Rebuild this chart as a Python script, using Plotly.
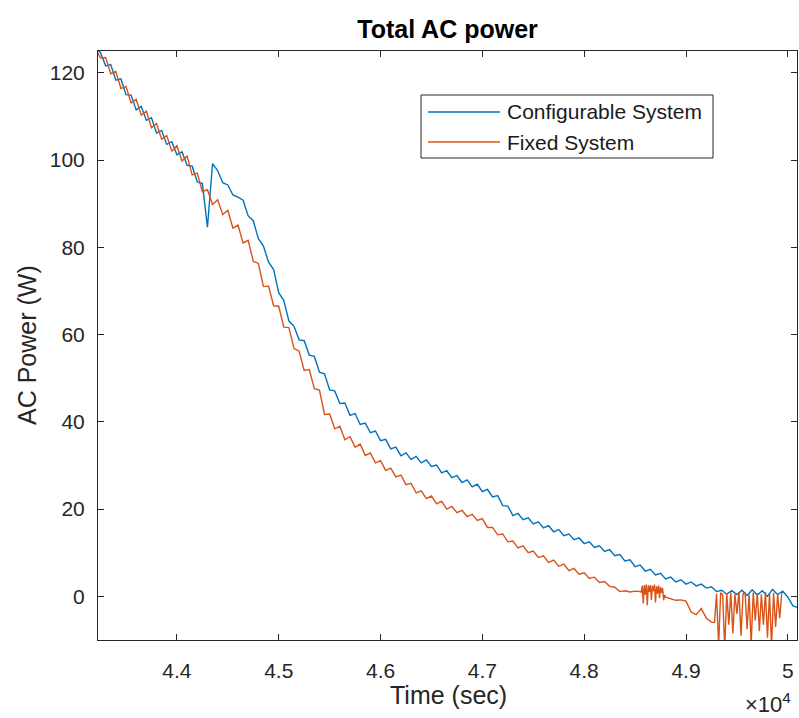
import numpy as np
import plotly.graph_objects as go

# ---- data -------------------------------------------------------------
# Configurable system: AC power (W), sampled every 50 s from t = 43200 s
CFG_T0, CFG_DT = 43200, 50
cfg_power = [
    125.8, 124.6, 121.6, 121.9, 118.3, 118.6, 115.0, 114.9, 111.5, 112.3,
    109.1, 109.7, 106.2, 106.8, 103.6, 104.2, 101.2, 101.9, 98.8, 98.6,
    95.0, 94.6, 84.6, 99.2, 97.6, 94.8, 94.3, 92.0, 91.5, 90.8,
    87.2, 86.1, 82.0, 80.3, 76.6, 74.9, 69.6, 67.8, 63.1, 61.9,
    58.8, 58.6, 55.3, 55.0, 51.4, 51.0, 47.3, 47.1, 44.2, 44.3,
    41.5, 41.9, 39.4, 39.7, 37.5, 37.9, 35.7, 36.0, 33.8, 34.2,
    32.2, 32.9, 31.4, 32.1, 30.6, 31.3, 29.8, 30.1, 28.3, 28.8,
    27.2, 27.7, 26.1, 26.7, 25.1, 25.7, 24.0, 24.5, 22.8, 23.1,
    20.8, 20.7, 18.5, 19.0, 17.6, 18.0, 16.6, 17.1, 15.7, 16.2,
    14.8, 15.3, 13.9, 14.3, 13.0, 13.4, 12.1, 12.5, 11.2, 11.6,
    10.3, 10.7, 9.3, 9.6, 8.1, 8.4, 6.8, 7.2, 5.8, 6.2,
    4.9, 5.3, 4.0, 4.4, 3.3, 3.8, 2.8, 3.3, 2.4, 2.8,
    1.9, 2.2, 1.1, 1.4, 0.5, 1.3, 0.4, 1.4, 0.2, 1.5,
    0.3, 1.3, 0.0, 1.6, 0.4, 1.2, -0.2, -2.2, -2.6,
]

# Fixed system: AC power (W), logged in segments with different sample spacing
fix_power_a = [  # from 43200 s, every 50 s
    125.6, 123.4, 123.5, 119.8, 120.3, 116.4, 116.9, 113.1, 113.9, 110.3,
    111.2, 107.4, 108.4, 104.8, 105.6, 102.0, 103.3, 99.8, 100.9, 96.6,
    97.0, 92.8, 93.2, 89.8, 90.9, 87.5, 88.5, 84.4, 85.1, 81.0,
    81.6, 76.8, 76.3, 71.0, 71.1, 66.6, 66.5, 61.7, 61.6, 56.8,
    56.2, 51.8, 52.0, 47.6, 47.3, 41.7, 41.8, 38.4, 39.0, 35.9,
    36.6, 34.2, 34.9, 32.3, 32.9, 30.6, 31.1, 28.9, 29.4, 27.4,
    27.8, 25.6, 25.9, 23.7, 24.2, 22.4, 23.0, 21.2, 21.8, 20.0,
    20.6, 19.2, 19.7, 18.3, 18.8, 17.4, 17.8, 15.8, 15.8, 14.1,
    14.3, 12.5, 12.7, 11.1, 11.6, 10.0, 10.4, 8.9, 9.3, 7.8,
    8.3, 6.9, 7.4, 5.9, 6.4, 5.1, 5.4, 4.1, 4.4, 3.2,
    3.4, 2.3, 2.1, 1.1, 1.3, 1.0, 1.2, 1.1,
]
fix_power_b = [  # from 48560 s, every 10 s
    0.9, 2.4, -1.6, 2.6, 0.4, 2.7, -2.0, 2.5, 1.0, 2.6,
    -0.8, 2.4, 1.2, 2.7, -1.4, 2.3, 0.6, 2.5, -0.4, 2.2,
    0.8, 1.9, -0.9, 0.3, -0.2,
]
fix_power_c = [  # from 48850 s, every 50 s
    -0.6, -0.9, -0.8, -1.1, -3.6, -4.2, -2.8, -5.0, -5.9,
]
fix_power_d = [  # from 49280 s, every 20 s
    -6.0, 0.6, -11.5, 0.8, 0.4, -12.0, 0.7, -6.5, 0.9, -8.5,
    0.5, -4.0, 1.0, -9.0, 0.6, 0.8, -7.5, 0.4, -11.0, 0.9,
    -5.5, 0.7, -8.0, 0.5, -6.5, 1.0, -9.5, 0.6, -11.5, 0.8,
    -7.0, 0.5, -5.0, 0.7,
]
FIX_SEGMENTS = [
    (43200, 50, fix_power_a),
    (48560, 10, fix_power_b),
    (48850, 50, fix_power_c),
    (49280, 20, fix_power_d),
]

X_TICKS = [44000, 45000, 46000, 47000, 48000, 49000, 50000]
X_TICK_TEXT = ["4.4", "4.5", "4.6", "4.7", "4.8", "4.9", "5"]
Y_TICKS = [0, 20, 40, 60, 80, 100, 120]

SERIES_NAMES = ["Configurable System", "Fixed System"]
COLORS = ["#0072BD", "#D95319"]

# ---- build time axes ----------------------------------------------------
cfg_t = CFG_T0 + CFG_DT * np.arange(len(cfg_power))
fix_t = np.concatenate([t0 + dt * np.arange(len(v)) for t0, dt, v in FIX_SEGMENTS])
fix_p = np.concatenate([np.asarray(v, dtype=float) for _, _, v in FIX_SEGMENTS])

# ---- figure ---------------------------------------------------------------
W, H = 799, 718
ML, MR, MT, MB = 98, 2, 51, 78
PW, PH = W - ML - MR, H - MT - MB
FONT = "Liberation Sans, Arial, Helvetica, sans-serif"
INK = "#262626"


def px(xp):
    return (xp - ML) / PW


def py(yp):
    return (H - MB - yp) / PH


fig = go.Figure()
fig.add_trace(go.Scatter(x=cfg_t, y=cfg_power, mode="lines", name=SERIES_NAMES[0],
                         line=dict(color=COLORS[0], width=1.4), showlegend=False))
fig.add_trace(go.Scatter(x=fix_t, y=fix_p, mode="lines", name=SERIES_NAMES[1],
                         line=dict(color=COLORS[1], width=1.4), showlegend=False))

axis_common = dict(
    showline=True, linecolor=INK, linewidth=1, mirror="ticks",
    ticks="inside", ticklen=6, tickcolor=INK, tickwidth=1,
    showgrid=False, zeroline=False,
    tickfont=dict(family=FONT, size=21, color=INK),
)
fig.update_xaxes(range=[43225, 50090], tickvals=X_TICKS, ticktext=X_TICK_TEXT,
                 ticklabelstandoff=12, **axis_common)
fig.update_yaxes(range=[-10, 125], tickvals=Y_TICKS, ticklabelstandoff=8, **axis_common)

# legend box drawn with shapes so the line samples have the long MATLAB style
shapes = [dict(type="rect", xref="paper", yref="paper",
               x0=px(421), x1=px(713), y0=py(158), y1=py(95),
               line=dict(color=INK, width=1), fillcolor="white")]
annotations = []
for i, (name, col) in enumerate(zip(SERIES_NAMES, COLORS)):
    yy = 112 + 30 * i
    shapes.append(dict(type="line", xref="paper", yref="paper",
                       x0=px(428), x1=px(500), y0=py(yy), y1=py(yy),
                       line=dict(color=col, width=1.4)))
    annotations.append(dict(text=name, xref="paper", yref="paper", x=px(505), y=py(yy),
                            xanchor="left", yanchor="middle", showarrow=False,
                            font=dict(family=FONT, size=21, color="#1a1a1a")))

annotations += [
    dict(text="Time (sec)", xref="paper", yref="paper", x=px(448), y=py(695),
         xanchor="center", yanchor="middle", showarrow=False,
         font=dict(family=FONT, size=25, color=INK)),
    dict(text="AC Power (W)", xref="paper", yref="paper", x=px(27), y=py(345),
         xanchor="center", yanchor="middle", showarrow=False, textangle=-90,
         font=dict(family=FONT, size=25, color=INK)),
    dict(text="\u00d710<sup>4</sup>", xref="paper", yref="paper", x=px(793), y=py(703),
         xanchor="right", yanchor="middle", showarrow=False,
         font=dict(family=FONT, size=22, color=INK)),
]

fig.update_layout(
    width=W, height=H,
    margin=dict(l=ML, r=MR, t=MT, b=MB, pad=0),
    paper_bgcolor="white", plot_bgcolor="white",
    title=dict(text="<b>Total AC power</b>", x=0.5, xref="paper", xanchor="center",
               y=1 - 29 / H, yref="container", yanchor="middle",
               font=dict(family=FONT, size=25, color="#000000")),
    shapes=shapes, annotations=annotations,
    showlegend=False,
)

fig.write_html("out.html")
